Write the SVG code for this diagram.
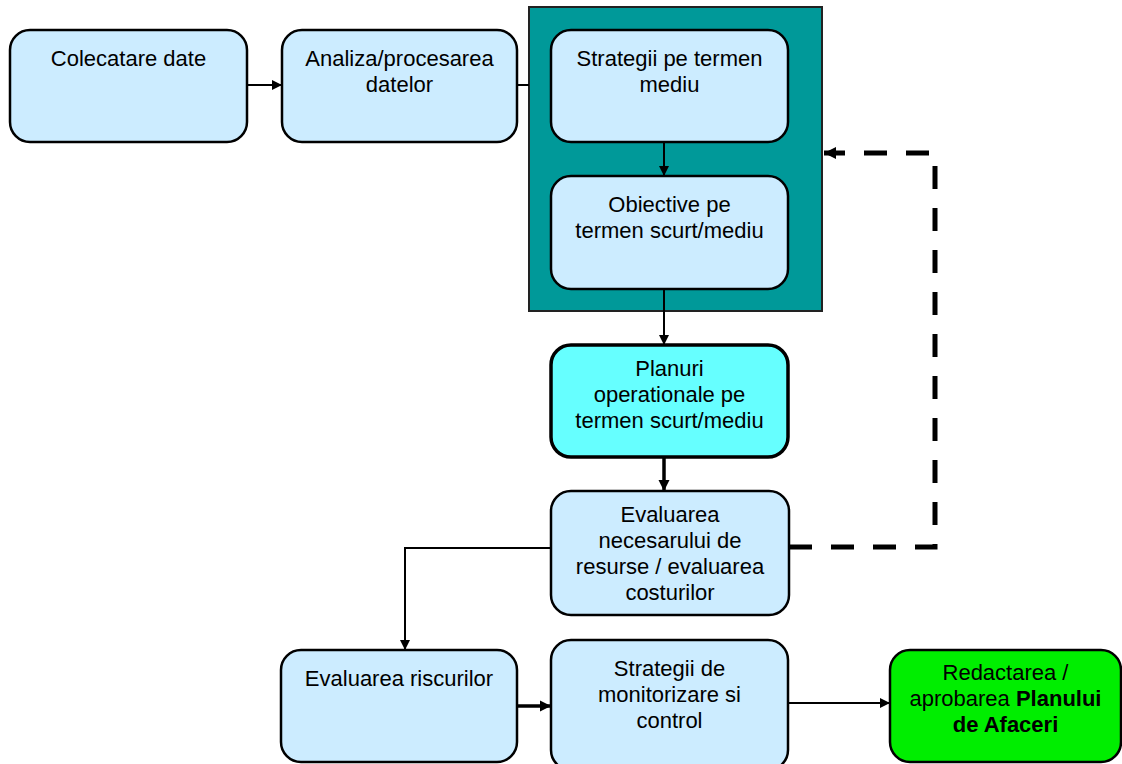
<svg xmlns="http://www.w3.org/2000/svg" width="1122" height="764" viewBox="0 0 1122 764">
  <style>
    .box { fill: #CCECFF; stroke: #000; stroke-width: 2.5; }
    .plan { fill: #66FFFF; stroke: #000; stroke-width: 3.5; }
    .final { fill: #00EE00; stroke: #000; stroke-width: 2.5; }
    .frame { fill: #009999; stroke: #222; stroke-width: 2; }
    text { font-family: "Liberation Sans", Arial, sans-serif; font-size: 22px; fill: #000; text-anchor: middle; }
    .b { font-weight: bold; }
    .conn { fill: none; stroke: #000; stroke-width: 2; }
    .thick { stroke-width: 3.5; }
    .dash { fill: none; stroke: #000; stroke-width: 5; stroke-dasharray: 23 19; }
  </style>
  <defs>
    <marker id="arrow" viewBox="0 0 10 10" refX="10" refY="5" markerWidth="5" markerHeight="5" orient="auto" markerUnits="strokeWidth">
      <path d="M0,0 L10,5 L0,10 z" fill="#000"/>
    </marker>
    <marker id="arrowT" viewBox="0 0 10 10" refX="10" refY="5" markerWidth="3.2" markerHeight="3.2" orient="auto" markerUnits="strokeWidth">
      <path d="M0,0 L10,5 L0,10 z" fill="#000"/>
    </marker>
    <marker id="arrowD" viewBox="0 0 10 10" refX="10" refY="5" markerWidth="2.4" markerHeight="2.4" orient="auto" markerUnits="strokeWidth">
      <path d="M0,0 L10,5 L0,10 z" fill="#000"/>
    </marker>
  </defs>

  <!-- strategy container -->
  <g id="strategy-frame">
    <rect class="frame" x="529" y="7" width="293" height="304"/>
  </g>

  <g id="connectors">
    <line class="conn" x1="247" y1="85" x2="282" y2="85" marker-end="url(#arrow)"/>
    <line class="conn" x1="517" y1="85" x2="529" y2="85"/>
    <line class="conn" x1="664" y1="142" x2="664" y2="176" marker-end="url(#arrow)"/>
    <line class="conn" x1="664" y1="289" x2="664" y2="345" marker-end="url(#arrow)"/>
    <line class="conn thick" x1="664" y1="457" x2="664" y2="491" marker-end="url(#arrowT)"/>
    <polyline class="conn" points="551,548 405,548 405,650" marker-end="url(#arrow)"/>
    <line class="conn thick" x1="517" y1="706" x2="551" y2="706" marker-end="url(#arrowT)"/>
    <line class="conn" x1="788" y1="703" x2="890" y2="703" marker-end="url(#arrow)"/>
    <polyline class="dash" points="789,547 935,547 935,153 824,153" marker-end="url(#arrowD)"/>
  </g>

  <g id="colectare">
    <rect class="box" x="10" y="30" width="237" height="112" rx="20"/>
    <text x="128.5" y="66">Colecatare date</text>
  </g>

  <g id="analiza">
    <rect class="box" x="282" y="30" width="235" height="112" rx="20"/>
    <text x="399.5" y="66">Analiza/procesarea</text>
    <text x="399.5" y="92">datelor</text>
  </g>

  <g id="strategii-mediu">
    <rect class="box" x="551" y="30" width="237" height="112" rx="20"/>
    <text x="669.5" y="66">Strategii pe termen</text>
    <text x="669.5" y="92">mediu</text>
  </g>

  <g id="obiective">
    <rect class="box" x="551" y="176" width="237" height="113" rx="20"/>
    <text x="669.5" y="212">Obiective pe</text>
    <text x="669.5" y="238">termen scurt/mediu</text>
  </g>

  <g id="planuri">
    <rect class="plan" x="551" y="345" width="237" height="112" rx="20"/>
    <text x="669.5" y="376">Planuri</text>
    <text x="669.5" y="402">operationale pe</text>
    <text x="669.5" y="428">termen scurt/mediu</text>
  </g>

  <g id="evaluarea-resurse">
    <rect class="box" x="551" y="491" width="238" height="124" rx="20"/>
    <text x="670" y="522">Evaluarea</text>
    <text x="670" y="548">necesarului de</text>
    <text x="670" y="574">resurse / evaluarea</text>
    <text x="670" y="600">costurilor</text>
  </g>

  <g id="evaluarea-riscuri">
    <rect class="box" x="281" y="650" width="236" height="112" rx="20"/>
    <text x="399" y="686">Evaluarea riscurilor</text>
  </g>

  <g id="monitorizare">
    <rect class="box" x="551" y="640" width="237" height="130" rx="20"/>
    <text x="669.5" y="676">Strategii de</text>
    <text x="669.5" y="702">monitorizare si</text>
    <text x="669.5" y="728">control</text>
  </g>

  <g id="redactarea">
    <rect class="final" x="890" y="650" width="231" height="112" rx="20"/>
    <text x="1005.5" y="680">Redactarea /</text>
    <text x="1005.5" y="706">aprobarea <tspan class="b">Planului</tspan></text>
    <text x="1005.5" y="732" class="b">de Afaceri</text>
  </g>
</svg>
